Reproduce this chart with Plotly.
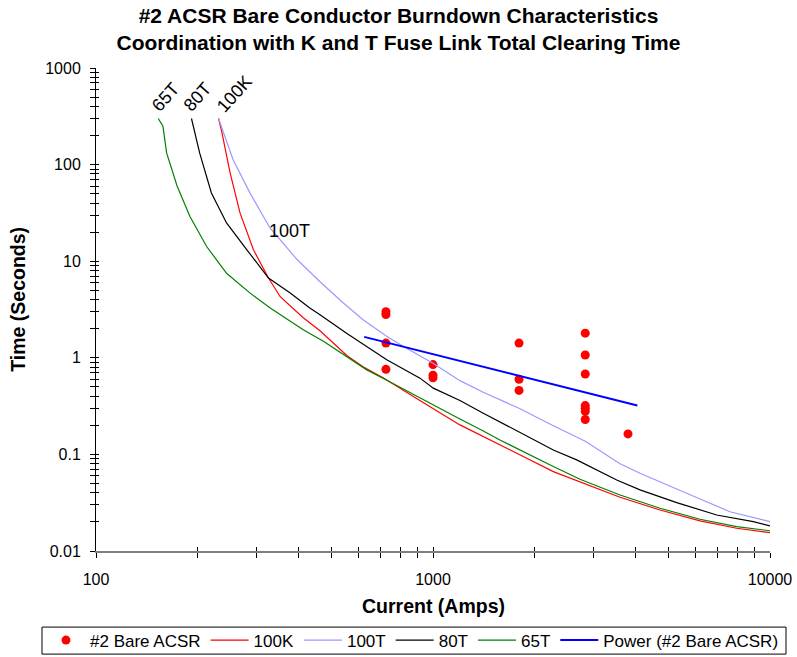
import numpy as np
import plotly.graph_objects as go

# ---------------- data ----------------
# measured burndown points (#2 Bare ACSR)
pts_current = [725, 725, 725, 725, 1000, 1000, 1000, 1800, 1800, 1800,
               2830, 2830, 2830, 2830, 2830, 2830, 2830, 3790]
pts_time = [3.0, 2.8, 1.42, 0.76, 0.85, 0.66, 0.62, 1.42, 0.60, 0.46,
            1.80, 1.07, 0.68, 0.32, 0.30, 0.28, 0.23, 0.163]

# fuse total clearing curves
k100_current = [231, 236, 250, 267.5, 293, 325, 352, 382, 412, 462, 508, 556, 620, 711,
                894, 1202, 1897, 2275, 3589, 4717, 6199, 7964, 10000]
k100_time = [300, 221, 82, 31.6, 13.2, 6.7, 4.29, 3.30, 2.60, 1.905, 1.40, 1.05, 0.807, 0.62,
             0.38, 0.202, 0.0914, 0.0663, 0.036, 0.0266, 0.0205, 0.0172, 0.0155]

t100_current = [231, 255, 286, 328, 395, 462, 541, 620, 725, 815, 1000, 1202, 1410,
                1800, 2230, 2830, 3589, 4114, 5659, 7607, 10000]
t100_time = [300, 113, 51.3, 22.2, 10.4, 6.13, 3.72, 2.48, 1.69, 1.32, 0.88, 0.58, 0.44,
             0.30, 0.205, 0.137, 0.080, 0.0638, 0.0396, 0.0255, 0.0201]

t80_current = [192, 203, 220, 244, 280, 325, 377, 431, 462, 554, 729, 915, 1002,
               1202, 1410, 1853, 2275, 2669, 3509, 4114, 5285, 6949, 8919, 10000]
t80_time = [300, 132, 50.9, 24.9, 13.2, 6.7, 4.68, 3.27, 2.79, 1.80, 0.953, 0.616, 0.485,
            0.361, 0.267, 0.163, 0.111, 0.0877, 0.0544, 0.0429, 0.0317, 0.0236, 0.0201, 0.0182]

t65_current = [153, 158, 162, 174, 190, 213, 244, 286, 328, 360, 412, 473, 554, 636,
               720, 894, 1202, 1410, 1580, 2275, 2730, 3589, 4717, 6199, 7964, 10000]
t65_time = [300, 250, 132, 60, 29, 14.2, 7.5, 4.7, 3.3, 2.65, 1.95, 1.48, 1.03, 0.75,
            0.60, 0.40, 0.232, 0.175, 0.141, 0.0748, 0.0553, 0.038, 0.0277, 0.0213, 0.0179, 0.0162]

trend_range = [625, 4040]

x_major = [100, 1000, 10000]
y_major = [0.01, 0.1, 1, 10, 100, 1000]
y_labels = ["0.01", "0.1", "1", "10", "100", "1000"]

# ---------------- power trendline (least squares in log-log) ----------------
b, a = np.polyfit(np.log10(pts_current), np.log10(pts_time), 1)
trend_x = np.array(trend_range, dtype=float)
trend_y = 10 ** (a + b * np.log10(trend_x))

FONT = "Liberation Sans, Arial, sans-serif"

fig = go.Figure()
fig.add_trace(go.Scatter(x=pts_current, y=pts_time, mode="markers", name="#2 Bare ACSR",
                         marker=dict(color="#FF0000", size=9, symbol="circle")))
fig.add_trace(go.Scatter(x=k100_current, y=k100_time, mode="lines", name="100K",
                         line=dict(color="#FF0000", width=1.2)))
fig.add_trace(go.Scatter(x=t100_current, y=t100_time, mode="lines", name="100T",
                         line=dict(color="#9999FF", width=1.2)))
fig.add_trace(go.Scatter(x=t80_current, y=t80_time, mode="lines", name="80T",
                         line=dict(color="#000000", width=1.2)))
fig.add_trace(go.Scatter(x=t65_current, y=t65_time, mode="lines", name="65T",
                         line=dict(color="#008000", width=1.2)))
fig.add_trace(go.Scatter(x=trend_x, y=trend_y, mode="lines", name="Power (#2 Bare ACSR)",
                         line=dict(color="#0000FF", width=2)))
# dummy trace to activate overlay axes (for crossing ticks)
fig.add_trace(go.Scatter(x=[None], y=[None], xaxis="x2", yaxis="y2", showlegend=False,
                         hoverinfo="skip"))

x_ticks = [m * 10 ** e for e in (2, 3) for m in range(1, 10)] + [10000]
x_text = [str(v) if v in x_major else "" for v in x_ticks]
y_ticks = [m * 10.0 ** e for e in (-2, -1, 0, 1, 2) for m in range(1, 10)] + [1000]
y_text = []
for v in y_ticks:
    lab = ""
    for mv, ml in zip(y_major, y_labels):
        if abs(v - mv) < 1e-9 * mv:
            lab = ml
    y_text.append(lab)

axis_common = dict(showgrid=False, zeroline=False, tickcolor="black", tickwidth=1,
                   tickfont=dict(family=FONT, size=16, color="black"))

PW, PH = 674, 482.5  # plot area size in px (for paper-coordinate conversion)

fig.update_layout(
    width=797, height=657,
    margin=dict(l=96, r=27, t=68, b=106, autoexpand=False),
    paper_bgcolor="white", plot_bgcolor="white",
    font=dict(family=FONT, color="black"),
    title=dict(text="<b>#2 ACSR Bare Conductor Burndown Characteristics<br>"
                    "Coordination with K and T Fuse Link Total Clearing Time</b>",
               x=0.5, xref="container", xanchor="center",
               y=1 - 23 / 657, yref="container", yanchor="middle",
               font=dict(family=FONT, size=21, color="black")),
    xaxis=dict(type="log", range=[2, 4], tickvals=x_ticks, ticktext=x_text,
               ticks="outside", ticklen=5, ticklabelstandoff=8,
               showline=True, linecolor="#808080", linewidth=2, **axis_common),
    yaxis=dict(type="log", range=[-2, 3], tickvals=y_ticks, ticktext=y_text,
               ticks="outside", ticklen=5, ticklabelstandoff=6,
               showline=True, linecolor="black", linewidth=1, **axis_common),
    xaxis2=dict(type="log", range=[2, 4], overlaying="x", anchor="y2", side="bottom",
                tickvals=x_ticks, ticks="inside", ticklen=4, showticklabels=False,
                showline=False, showgrid=False, zeroline=False, tickcolor="black"),
    yaxis2=dict(type="log", range=[-2, 3], overlaying="y", anchor="x2", side="left",
                tickvals=y_ticks, ticks="inside", ticklen=3, showticklabels=False,
                showline=False, showgrid=False, zeroline=False, tickcolor="black"),
    showlegend=True,
    legend=dict(orientation="h", x=(42 - 96) / PW, y=(551 - 622.5) / PH,
                xanchor="left", yanchor="top", borderwidth=0,
                font=dict(family=FONT, size=17, color="black"), bgcolor="rgba(0,0,0,0)",
                traceorder="normal", itemwidth=38),
)

# legend frame (Excel-style, thinner than plotly's own legend box)
fig.add_shape(type="rect", xref="paper", yref="paper",
              x0=(42 - 96) / PW, x1=(786 - 96) / PW,
              y0=(551 - 654) / PH, y1=(551 - 627) / PH,
              line=dict(color="black", width=1), fillcolor="rgba(0,0,0,0)")

ann_font = dict(family=FONT, size=18, color="black")
fig.add_annotation(x=0.5, y=(551 - 606) / PH, xref="paper", yref="paper",
                   xanchor="center", yanchor="middle",
                   text="<b>Current (Amps)</b>", showarrow=False,
                   font=dict(family=FONT, size=19.5, color="black"))
fig.add_annotation(x=(18 - 96) / PW, y=(551 - 300) / PH, xref="paper", yref="paper",
                   xanchor="center", yanchor="middle",
                   text="<b>Time (Seconds)</b>", showarrow=False, textangle=-90,
                   font=dict(family=FONT, size=19.5, color="black"))
fig.add_annotation(x=np.log10(376), y=np.log10(20.4), xref="x", yref="y", text="100T",
                   showarrow=False, font=ann_font)
for txt, lx, ly in [("65T", 2.207, 2.70), ("80T", 2.301, 2.70), ("100K", 2.41, 2.736)]:
    fig.add_annotation(x=lx, y=ly, xref="x", yref="y", text=txt, showarrow=False,
                       textangle=-48, font=ann_font)

fig.write_html("out.html")
